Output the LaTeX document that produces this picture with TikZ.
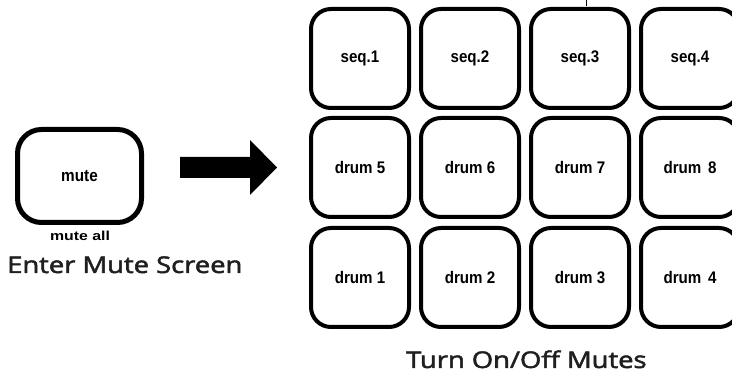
\documentclass[tikz,border=0pt]{standalone}
\usepackage{fontspec}
\setmainfont{Liberation Sans}
\newfontfamily\capfont[FakeBold=2]{Open Sans}
\newcommand{\padtxt}[1]{\scalebox{0.9}[1]{#1}}
\begin{document}
\begin{tikzpicture}[x=1pt,y=-1pt,
  pad/.style={draw=black, line width=4pt, rounded corners=20pt, minimum width=98pt, minimum height=99pt, inner sep=0pt, font=\bfseries\fontsize{16.8}{18}\selectfont},
  mutebtn/.style={draw=black, line width=5pt, rounded corners=24pt, minimum width=124pt, minimum height=93pt, inner sep=0pt, font=\bfseries\fontsize{17}{18}\selectfont},
  caption/.style={anchor=base west, inner sep=0pt, text=black!88, font=\capfont\fontsize{23}{26}\selectfont},
  small/.style={inner sep=0pt, font=\bfseries\fontsize{13}{15}\selectfont}]
\useasboundingbox (0,0) rectangle (732,374);
\clip (0,0) rectangle (732,374);
% mute button
\node[mutebtn] (mute) at (79.5,176) {\padtxt{mute}};
\node[small, anchor=base] (muteall) at (80,241) {\scalebox{1.22}[1]{mute all}};
\node[caption] (enter) at (7,273) {\scalebox{1.19}[1]{Enter Mute Screen}};
% arrow
\coordinate (a1) at (180,157);
\coordinate (a2) at (250,157);
\coordinate (a3) at (250,140);
\coordinate (a4) at (277,167.5);
\coordinate (a5) at (250,195);
\coordinate (a6) at (250,178);
\coordinate (a7) at (180,178);
\fill[black] (a1) -- (a2) -- (a3) -- (a4) -- (a5) -- (a6) -- (a7) -- cycle;
% pads
\node[pad] (s1) at (360,58.5) {\padtxt{seq.1}};
\node[pad] (s2) at (470,58.5) {\padtxt{seq.2}};
\node[pad] (s3) at (580,58.5) {\padtxt{seq.3}};
\node[pad] (s4) at (690,58.5) {\padtxt{seq.4}};
\node[pad] (d5) at (360,167.5) {\padtxt{drum 5}};
\node[pad] (d6) at (470,167.5) {\padtxt{drum 6}};
\node[pad] (d7) at (580,167.5) {\padtxt{drum 7}};
\node[pad] (d8) at (690,167.5) {\padtxt{drum\ \,8}};
\node[pad] (d1) at (360,277.5) {\padtxt{drum 1}};
\node[pad] (d2) at (470,277.5) {\padtxt{drum 2}};
\node[pad] (d3) at (580,277.5) {\padtxt{drum 3}};
\node[pad] (d4) at (690,277.5) {\padtxt{drum\ \,4}};
% tiny tick
\coordinate (t1) at (586.7,0);
\coordinate (t2) at (586.7,6);
\draw[line width=1pt] (t1) -- (t2);
\node[caption] (turn) at (406,368) {\scalebox{1.19}[1]{Turn On/Off Mutes}};
\end{tikzpicture}
\end{document}
